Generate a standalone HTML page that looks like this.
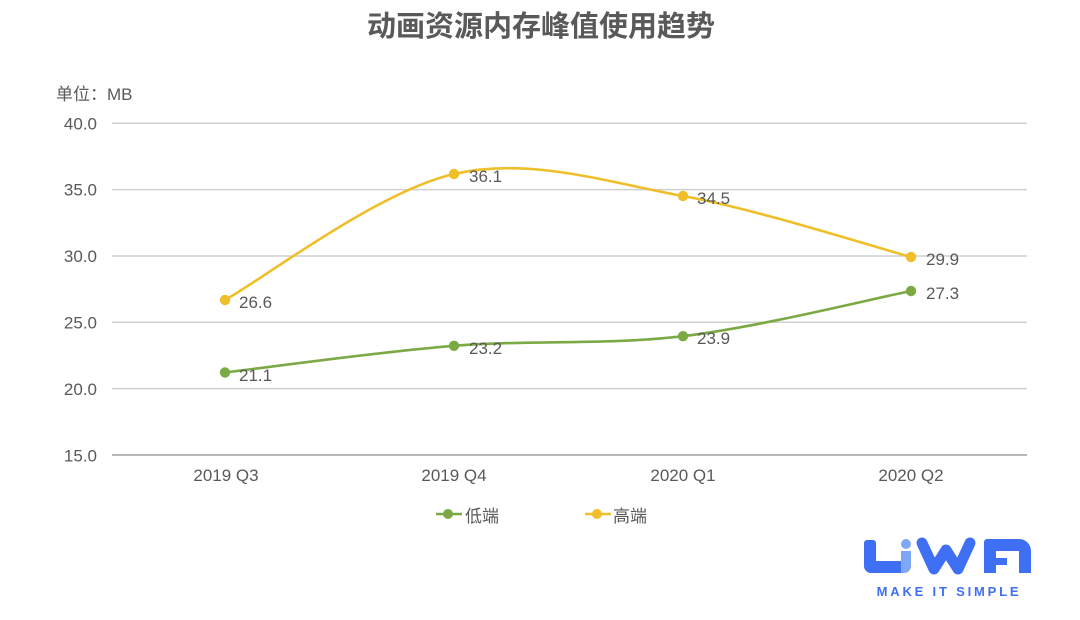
<!DOCTYPE html>
<html><head><meta charset="utf-8"><style>
html,body{margin:0;padding:0;background:#fff;}
svg{display:block;}
text{font-family:"Liberation Sans","Noto Sans CJK SC",sans-serif;fill:#595959;}
</style></head><body>
<svg width="1080" height="620" viewBox="0 0 1080 620" xmlns="http://www.w3.org/2000/svg">
<rect width="1080" height="620" fill="#fff"/>
<text x="541" y="36" text-anchor="middle" font-size="29" font-weight="bold" fill="#595959">动画资源内存峰值使用趋势</text>
<text x="56" y="100" font-size="17">单位：MB</text>
<g stroke="#d0d0d0" stroke-width="1.5">
<line x1="112" y1="123.3" x2="1027" y2="123.3"/>
<line x1="112" y1="189.6" x2="1027" y2="189.6"/>
<line x1="112" y1="256" x2="1027" y2="256"/>
<line x1="112" y1="322.3" x2="1027" y2="322.3"/>
<line x1="112" y1="388.6" x2="1027" y2="388.6"/>
</g>
<line x1="112" y1="455" x2="1027" y2="455" stroke="#a0a0a0" stroke-width="1.5"/>
<g font-size="17" text-anchor="end">
<text x="97" y="129.5">40.0</text>
<text x="97" y="195.5">35.0</text>
<text x="97" y="262">30.0</text>
<text x="97" y="328.5">25.0</text>
<text x="97" y="395">20.0</text>
<text x="97" y="461.5">15.0</text>
</g>
<g font-size="17" text-anchor="middle">
<text x="226" y="481">2019 Q3</text>
<text x="454" y="481">2019 Q4</text>
<text x="683" y="481">2020 Q1</text>
<text x="911" y="481">2020 Q2</text>
</g>
<path d="M225,300 C263.2,279 377.7,191.3 454,174 C530.3,156.7 606.8,182.2 683,196 C759,209.8 873,246.8 911,257" fill="none" stroke="#EFBF2A" stroke-width="2.6"/>
<path d="M225,372.5 C263.2,368 377.7,351.9 454,345.8 C530.3,339.8 606.8,345.3 683,336.2 C759.2,327.1 873,298.5 911,291" fill="none" stroke="#7BAA45" stroke-width="2.6"/>
<g fill="#EFBF2A">
<circle cx="225" cy="300" r="5.2"/><circle cx="454" cy="174" r="5.2"/><circle cx="683" cy="196" r="5.2"/><circle cx="911" cy="257" r="5.2"/>
</g>
<g fill="#7BAA45">
<circle cx="225" cy="372.5" r="5.2"/><circle cx="454" cy="345.8" r="5.2"/><circle cx="683" cy="336.2" r="5.2"/><circle cx="911" cy="291" r="5.2"/>
</g>
<g font-size="17">
<text x="239" y="308">26.6</text>
<text x="469" y="182">36.1</text>
<text x="697" y="204">34.5</text>
<text x="926" y="265">29.9</text>
<text x="239" y="381">21.1</text>
<text x="469" y="354">23.2</text>
<text x="697" y="344">23.9</text>
<text x="926" y="299">27.3</text>
</g>
<line x1="436" y1="514" x2="462" y2="514" stroke="#7BAA45" stroke-width="2.6"/>
<circle cx="448" cy="514" r="5" fill="#7BAA45"/>
<text x="465" y="522" font-size="17">低端</text>
<line x1="585" y1="514" x2="611" y2="514" stroke="#EFBF2A" stroke-width="2.6"/>
<circle cx="597" cy="514" r="5" fill="#EFBF2A"/>
<text x="613" y="522" font-size="17">高端</text>
<!-- logo -->
<g fill="#3F6FF2">
<path d="M864,543 a3,3 0 0 1 3,-3 h6 a3,3 0 0 1 3,3 v18 h25 v12 h-30 a7,7 0 0 1 -7,-7 z"/>
<path d="M984,573 v-31 a3,3 0 0 1 3,-3 h32 a12,12 0 0 1 12,12 v22 h-12 v-22 h-23 v7 h11 v7 h-11 v8 z"/>
</g>
<polyline points="922,543 934,569 946,550 958,569 970,543" fill="none" stroke="#3F6FF2" stroke-width="11" stroke-linejoin="round" stroke-linecap="round"/>
<g fill="#7EA7F6">
<circle cx="906" cy="544" r="5"/>
<path d="M901,551 h10 v15 a7,7 0 0 1 -7,7 h-3 z"/>
</g>
<text x="949" y="596" text-anchor="middle" font-size="13" font-weight="bold" letter-spacing="2.8" style="fill:#3F6FF2">MAKE IT SIMPLE</text>
</svg>
</body></html>
